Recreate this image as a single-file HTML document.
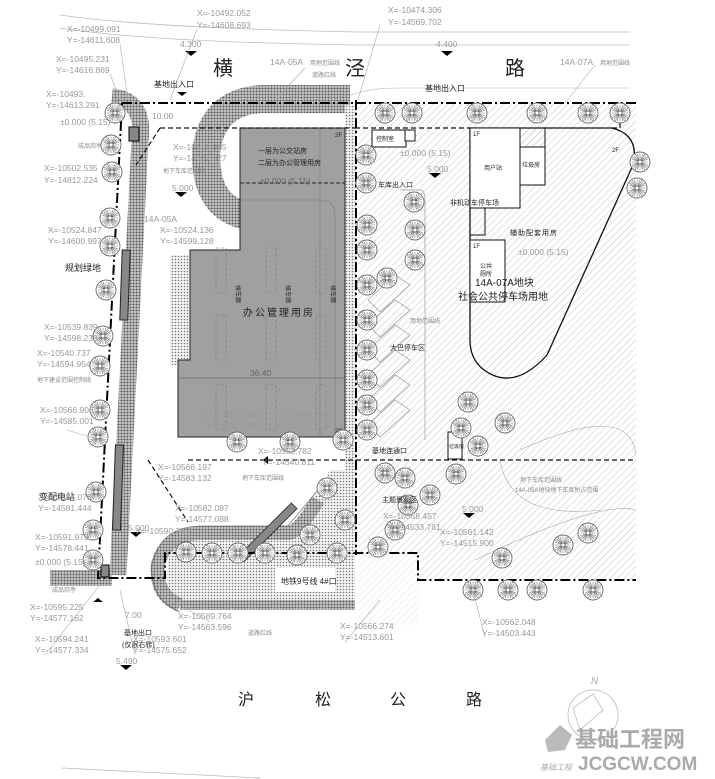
<!DOCTYPE html>
<html><head><meta charset="utf-8"><style>
html,body{margin:0;padding:0;background:#fff}
svg{display:block}
.c{font-family:"Liberation Sans",sans-serif;font-size:8.5px;fill:#999}
.k{font-family:"Liberation Sans","Noto Sans CJK SC",sans-serif;fill:#222}
.g{font-family:"Liberation Sans","Noto Sans CJK SC",sans-serif;fill:#888;font-size:6px}
</style></head><body>
<svg width="715" height="779" viewBox="0 0 715 779" xmlns="http://www.w3.org/2000/svg">
<defs>
<pattern id="h" width="5" height="5" patternUnits="userSpaceOnUse" patternTransform="rotate(45)"><line x1="0" y1="0" x2="0" y2="5" stroke="#b8b8b8" stroke-width="0.8"/></pattern>
<pattern id="d" width="3" height="3" patternUnits="userSpaceOnUse"><rect width="3" height="3" fill="#f4f4f4"/><circle cx="1.5" cy="1.5" r="0.8" fill="#777"/></pattern>
<pattern id="dd" width="3" height="3" patternUnits="userSpaceOnUse"><rect width="3" height="3" fill="#c8c8c8"/><circle cx="1.5" cy="1.5" r="1" fill="#555"/></pattern>
<g id="t"><circle r="10" fill="#fff" stroke="#666" stroke-width="0.9"/><path d="M-8,0H8M0,-8V8M-6,-6L6,6M-6,6L6,-6M-8,-3L8,3M-8,3L8,-3M-3,-8L3,8M3,-8L-3,8M-5,-8L5,8M5,-8L-5,8M-8,-5L8,5M-8,5L8,-5" stroke="#777" stroke-width="0.6"/><circle r="1.5" fill="#fff"/></g>
</defs>

<path d="M60,15 Q150,28 360,32 L630,32" fill="none" stroke="#bbb" stroke-width="0.8"/>
<path d="M60,28 Q150,42 360,45 L630,45" fill="none" stroke="#bbb" stroke-width="0.8"/>
<path d="M340,100 Q360,88 400,88 L630,88" fill="none" stroke="#ccc" stroke-width="0.8"/>

<path d="M358,103 L636,103 L636,580 L420,580 L420,555 L358,555 Z" fill="url(#h)"/>
<rect x="358" y="555" width="60" height="70" fill="url(#h)" opacity="0.5"/>

<path d="M470,128 L612,128 Q640,135 633,165 L547,355 Q520,385 495,376 Q470,366 470,340 Z" fill="none" stroke="#111" stroke-width="1.3"/>
<path d="M520,450 Q630,400 636,455 M475,560 Q600,500 636,510 M500,460 Q510,520 600,510" fill="none" stroke="#aaa" stroke-width="0.6"/>

<g fill="#fff" stroke="#111" stroke-width="1">
<rect x="372" y="130" width="34" height="17"/><rect x="405" y="130" width="10" height="11"/>
<rect x="470" y="128" width="50" height="80"/>
<rect x="520" y="147" width="25" height="38"/><rect x="520" y="128" width="25" height="19" fill="url(#h)"/>
<rect x="470" y="240" width="35" height="62"/>
<rect x="448" y="432" width="14" height="27"/>
</g>
<path d="M485,208 V235 H470" fill="none" stroke="#111"/>

<g fill="none" stroke="#999" stroke-width="0.7">
<path d="M368,300 L395,275 L410,285 L380,312 Z M368,325 L395,300 L410,310 L380,337 Z M368,350 L395,325 L410,335 L380,362 Z M368,375 L395,350 L410,360 L380,387 Z M368,400 L395,375 L410,385 L380,412 Z M368,425 L395,400 L410,410 L380,437 Z"/>
<path d="M400,190 L420,190 Q425,190 425,200 L425,440"/>
</g>

<path d="M112,97 Q145,100 140,140 L118,575" fill="none" stroke="url(#dd)" stroke-width="17"/>
<path d="M50,578 L112,578" stroke="url(#dd)" stroke-width="16"/>
<path d="M243,215 Q206,205 206,155 Q210,102 262,99 L350,99" fill="none" stroke="url(#dd)" stroke-width="28"/>
<rect x="345" y="105" width="12" height="450" fill="url(#d)"/>
<rect x="170" y="255" width="20" height="110" fill="url(#d)"/>

<path d="M355,545 L355,600 Q360,610 170,600 Q160,560 180,540 Q205,525 300,525 L330,470 L345,470 L355,545 Z" fill="url(#d)"/>
<path d="M180,605 Q155,595 158,565 Q165,535 200,533 L290,533 Q300,530 318,500" fill="none" stroke="url(#dd)" stroke-width="14"/>
<path d="M180,605 L355,605" stroke="url(#dd)" stroke-width="10"/>
<path d="M180,612 Q150,600 152,565 Q160,527 200,526 L288,526 L318,490" fill="none" stroke="#555" stroke-width="0.6"/>
<rect x="275" y="568" width="60" height="24" fill="#fff"/>
<text x="281" y="584" class="k" style="font-size:8px">地铁9号线 4#口</text>
<rect x="264" y="495" width="8" height="75" fill="#888" stroke="#222" stroke-width="0.8" transform="rotate(45 268 532)"/>

<path d="M240,128 H345 V437 H178 V360 H190 V250 H240 Z" fill="#a0a0a0" stroke="#222" stroke-width="1"/>
<line x1="240" y1="183" x2="345" y2="183" stroke="#222" stroke-dasharray="4,2"/>
<path d="M240,200 H320 Q335,200 335,215 V437" fill="none" stroke="#777" stroke-width="0.6"/>
<line x1="320" y1="128" x2="320" y2="437" stroke="#777" stroke-width="0.6"/>
<g fill="none" stroke="#777" stroke-width="0.6" stroke-dasharray="3,2">
<rect x="216" y="248" width="10" height="45"/><rect x="266" y="248" width="10" height="45"/><rect x="316" y="248" width="10" height="45"/>
<rect x="216" y="315" width="10" height="45"/><rect x="266" y="315" width="10" height="45"/><rect x="316" y="315" width="10" height="45"/>
<rect x="216" y="385" width="10" height="45"/><rect x="266" y="385" width="10" height="45"/><rect x="316" y="385" width="10" height="45"/>
</g>
<line x1="178" y1="378" x2="345" y2="378" stroke="#555" stroke-width="0.5"/>
<text x="258" y="153" class="k" style="font-size:7px">一层为公交站房</text>
<text x="258" y="165" class="k" style="font-size:7px">二层为办公管理用房</text>
<text x="260" y="184" class="c" style="fill:#666">±0.000 (5.15)</text>
<text x="243" y="316" class="k" style="font-size:10px;letter-spacing:2px">办公管理用房</text>
<text x="250" y="376" class="c" style="fill:#666">36.40</text>
<text x="335" y="137" class="k" style="font-size:6px">2F</text>
<text x="335" y="433" class="k" style="font-size:6px">2F</text>
<text x="236" y="285" class="k" style="font-size:6px" transform="rotate(90 236 285)">候车廊</text>
<text x="286" y="285" class="k" style="font-size:6px" transform="rotate(90 286 285)">候车廊</text>
<text x="331" y="285" class="k" style="font-size:6px" transform="rotate(90 331 285)">候车廊</text>

<g fill="none" stroke="#111" stroke-width="1.2" stroke-dasharray="5,3">
<path d="M160,128 H355 M160,128 L136,165"/>
<path d="M148,460 L188,522 M188,460 H636"/>
<path d="M355,128 H470 M612,128 H620 V103"/>
</g>

<g fill="none" stroke="#000" stroke-width="2" stroke-dasharray="10,3,2,3">
<path d="M122,103 H636"/>
<path d="M122,103 L98,578 H165 V553 H418 V580 H636"/>
<path d="M356,100 V555"/>
</g>
<rect x="129" y="127" width="10" height="14" fill="#888" stroke="#000"/>
<rect x="114" y="445" width="8" height="85" fill="#888" stroke="#222" transform="rotate(2 118 487)"/>
<rect x="101" y="565" width="8" height="12" fill="#888" stroke="#000"/>
<rect x="121" y="250" width="8" height="70" fill="#888" stroke="#222" transform="rotate(2 125 285)"/>

<g>
<use href="#t" x="115" y="113"/><use href="#t" x="111" y="145"/><use href="#t" x="112" y="172"/><use href="#t" x="110" y="218"/><use href="#t" x="110" y="246"/><use href="#t" x="106" y="290"/><use href="#t" x="103" y="336"/><use href="#t" x="100" y="366"/><use href="#t" x="100" y="410"/><use href="#t" x="98" y="437"/><use href="#t" x="96" y="492"/><use href="#t" x="93" y="530"/><use href="#t" x="93" y="560"/>
<use href="#t" x="385" y="113"/><use href="#t" x="412" y="113"/><use href="#t" x="477" y="113"/><use href="#t" x="537" y="113"/><use href="#t" x="588" y="113"/><use href="#t" x="620" y="113"/><use href="#t" x="640" y="162"/><use href="#t" x="637" y="188"/>
<use href="#t" x="366" y="155"/><use href="#t" x="366" y="183"/><use href="#t" x="367" y="225"/><use href="#t" x="367" y="250"/><use href="#t" x="367" y="285"/><use href="#t" x="367" y="320"/><use href="#t" x="367" y="350"/><use href="#t" x="367" y="380"/><use href="#t" x="367" y="405"/><use href="#t" x="367" y="430"/>
<use href="#t" x="414" y="202"/><use href="#t" x="415" y="230"/><use href="#t" x="415" y="260"/><use href="#t" x="387" y="278"/>
<use href="#t" x="468" y="402"/><use href="#t" x="461" y="428"/><use href="#t" x="505" y="423"/><use href="#t" x="478" y="446"/><use href="#t" x="456" y="474"/><use href="#t" x="430" y="495"/><use href="#t" x="385" y="473"/><use href="#t" x="405" y="478"/><use href="#t" x="408" y="505"/><use href="#t" x="395" y="530"/>
<use href="#t" x="563" y="545"/><use href="#t" x="588" y="533"/><use href="#t" x="502" y="558"/><use href="#t" x="473" y="590"/><use href="#t" x="508" y="590"/><use href="#t" x="537" y="590"/><use href="#t" x="593" y="590"/><use href="#t" x="378" y="547"/>
<use href="#t" x="186" y="552"/><use href="#t" x="212" y="553"/><use href="#t" x="238" y="553"/><use href="#t" x="265" y="553"/><use href="#t" x="297" y="555"/><use href="#t" x="337" y="553"/><use href="#t" x="327" y="488"/><use href="#t" x="310" y="535"/><use href="#t" x="345" y="520"/>
<use href="#t" x="237" y="442"/><use href="#t" x="290" y="442"/><use href="#t" x="343" y="440"/>
</g>

<g fill="#000">
<path d="M185,51 h12 l-6,5z"/><path d="M441,51 h12 l-6,5z"/><path d="M177,92 h10 l-5,4z"/><path d="M175,192 h12 l-6,5z"/><path d="M429,173 h12 l-6,5z"/><path d="M130,532 h12 l-6,5z"/><path d="M463,513 h12 l-6,5z"/><path d="M120,665 h12 l-6,5z"/><path d="M93,602 h10 l-5,-4z"/><path d="M268,456 v8 l-5,-4z"/>
</g>
<g class="c">
<text x="180" y="47">4.300</text><text x="436" y="47">4.400</text><text x="172" y="191">5.000</text><text x="427" y="172">5.000</text><text x="128" y="531">5.000</text><text x="462" y="512">5.000</text><text x="116" y="664">5.490</text>
<text x="152" y="119">10.00</text>
<text x="125" y="618">7.00</text>
</g>

<g class="k" style="font-size:20px">
<text x="213" y="75">横</text><text x="345" y="75">泾</text><text x="505" y="75">路</text>
</g>
<g class="k" style="font-size:16px">
<text x="238" y="705">沪</text><text x="315" y="705">松</text><text x="390" y="705">公</text><text x="466" y="705">路</text>
</g>

<g class="k" style="font-size:8px">
<text x="154" y="87">基地出入口</text><text x="425" y="91">基地出入口</text>
<text x="65" y="271" style="font-size:9px">规划绿地</text><text x="39" y="500" style="font-size:9px">变配电站</text>
<text x="124" y="635" style="font-size:7px">基地出口</text><text x="122" y="647" style="font-size:7px">(仅限右转)</text>
<text x="378" y="187" style="font-size:7px">车库出入口</text><text x="450" y="205" style="font-size:7px">非机动车停车场</text>
<text x="510" y="235" style="font-size:7px;letter-spacing:1px">辅助配套用房</text>
<text x="475" y="286" style="font-size:10px">14A-07A地块</text>
<text x="458" y="300" style="font-size:10px">社会公共停车场用地</text>
<text x="390" y="350" style="font-size:7px">大巴停车区</text>
<text x="372" y="453" style="font-size:7px">基地连通口</text>
<text x="382" y="502" style="font-size:7px">主题景观区</text>
<text x="376" y="141" style="font-size:6px">控制室</text>
<text x="484" y="170" style="font-size:6px">用户站</text>
<text x="522" y="167" style="font-size:6px">垃圾房</text>
<text x="480" y="268" style="font-size:6px">公共</text><text x="480" y="276" style="font-size:6px">厕所</text>
<text x="473" y="136" style="font-size:6px">1F</text><text x="473" y="248" style="font-size:6px">1F</text><text x="612" y="152" style="font-size:6px">2F</text>
<text x="449" y="448" style="font-size:5px">垃圾房</text>
</g>

<g class="c">
<text x="197" y="16">X=-10492.052</text><text x="197" y="28">Y=-14608.693</text>
<text x="67" y="32">X=-10499.091</text><text x="67" y="43">Y=-14611.608</text>
<text x="56" y="62">X=-10495.231</text><text x="56" y="73">Y=-14616.869</text>
<text x="46" y="97">X=-10493.</text><text x="46" y="108">Y=-14613.291</text>
<text x="60" y="125">±0.000 (5.15)</text>
<text x="44" y="171">X=-10502.535</text><text x="44" y="183">Y=-14612.224</text>
<text x="48" y="233">X=-10524.847</text><text x="48" y="244">Y=-14600.997</text>
<text x="160" y="233">X=-10524.136</text><text x="160" y="244">Y=-14599.128</text>
<text x="173" y="150">X=-10519.865</text><text x="173" y="161">Y=-14607.327</text>
<text x="44" y="330">X=-10539.839</text><text x="44" y="341">Y=-14598.238</text>
<text x="37" y="356">X=-10540.737</text><text x="37" y="367">Y=-14594.954</text>
<text x="40" y="413">X=-10566.908</text><text x="40" y="424">Y=-14585.001</text>
<text x="203" y="417">X=-10557.828</text><text x="207" y="429">Y=-14571.681</text>
<text x="275" y="417">X=-10544.075</text><text x="275" y="429">Y=-14541.463</text>
<text x="258" y="454">X=-10553.782</text><text x="262" y="465">Y=-14540.811</text>
<text x="158" y="470">X=-10566.197</text><text x="158" y="481">Y=-14583.132</text>
<text x="38" y="500">X=-10584.075</text><text x="38" y="511">Y=-14581.444</text>
<text x="175" y="511">X=-10582.087</text><text x="175" y="522">Y=-14577.088</text>
<text x="136" y="534">X=-10590.787</text>
<text x="35" y="540">X=-10591.979</text><text x="35" y="551">Y=-14578.441</text>
<text x="35" y="565">±0.000 (5.15)</text>
<text x="383" y="519">X=-10568.457</text><text x="387" y="530">Y=-14533.761</text>
<text x="440" y="535">X=-10561.142</text><text x="440" y="546">Y=-14515.900</text>
<text x="30" y="610">X=-10595.225</text><text x="30" y="621">Y=-14577.162</text>
<text x="178" y="619">X=-10589.764</text><text x="178" y="630">Y=-14563.596</text>
<text x="35" y="642">X=-10594.241</text><text x="35" y="653">Y=-14577.334</text>
<text x="133" y="642">X=-10593.601</text><text x="133" y="653">Y=-14575.652</text>
<text x="340" y="629">X=-10566.274</text><text x="340" y="640">Y=-14513.601</text>
<text x="482" y="625">X=-10562.048</text><text x="482" y="636">Y=-14503.443</text>
<text x="388" y="13">X=-10474.306</text><text x="388" y="25">Y=-14569.702</text>
<text x="270" y="65">14A-05A</text><text x="560" y="65">14A-07A</text>
<text x="400" y="156">±0.000 (5.15)</text><text x="518" y="255">±0.000 (5.15)</text>
<text x="144" y="222">14A-05A</text>
</g>
<g class="g">
<text x="310" y="65">用地范围线</text><text x="312" y="77">道路红线</text><text x="600" y="65">用地范围线</text>
<text x="78" y="148">成品岗亭</text><text x="37" y="382">地下建设范围控制线</text><text x="52" y="592">成品岗亭</text>
<text x="163" y="173">地下车库范围线</text><text x="242" y="480">地下车库范围线</text><text x="248" y="635">道路红线</text>
<text x="410" y="323">用地范围线</text><text x="520" y="482">地下车库范围线</text><text x="515" y="492">14A-05A地块地下车库所占范围</text>
</g>
<g stroke="#aaa" stroke-width="0.6" fill="none">
<path d="M197,29 L170,100 M120,44 L128,100 M110,74 L120,100 M380,25 L358,100 M305,68 L275,100 M595,65 L565,103 M67,430 L100,440 M210,622 L170,600 M345,642 L380,600 M485,637 L470,580 M45,655 L100,585 M135,655 L120,590"/>
</g>

<circle cx="593" cy="715" r="25" fill="none" stroke="#bbb" stroke-width="0.8"/>
<path d="M573,708 L593,694 L603,710 L580,730 Z" fill="none" stroke="#bbb" stroke-width="0.8"/>
<text x="591" y="684" class="c" style="font-style:italic;font-size:10px;fill:#aaa">N</text>
<path d="M545,740 L560,725 L572,735 L565,750 L548,752 Z" fill="#bbb"/>
<text x="575" y="747" style="font-family:'Noto Sans CJK SC',sans-serif;font-weight:bold;font-size:22px;fill:#aaa">基础工程网</text>
<text x="578" y="770" style="font-family:'Liberation Sans',sans-serif;font-weight:bold;font-size:19px;fill:#aaa">JCGCW.COM</text>
<text x="540" y="770" style="font-family:'Noto Sans CJK SC',sans-serif;font-size:8px;fill:#aaa;font-style:italic">基础工程</text>
<line x1="62" y1="768" x2="260" y2="778" stroke="#bbb" stroke-width="0.8"/>
</svg>
</body></html>
